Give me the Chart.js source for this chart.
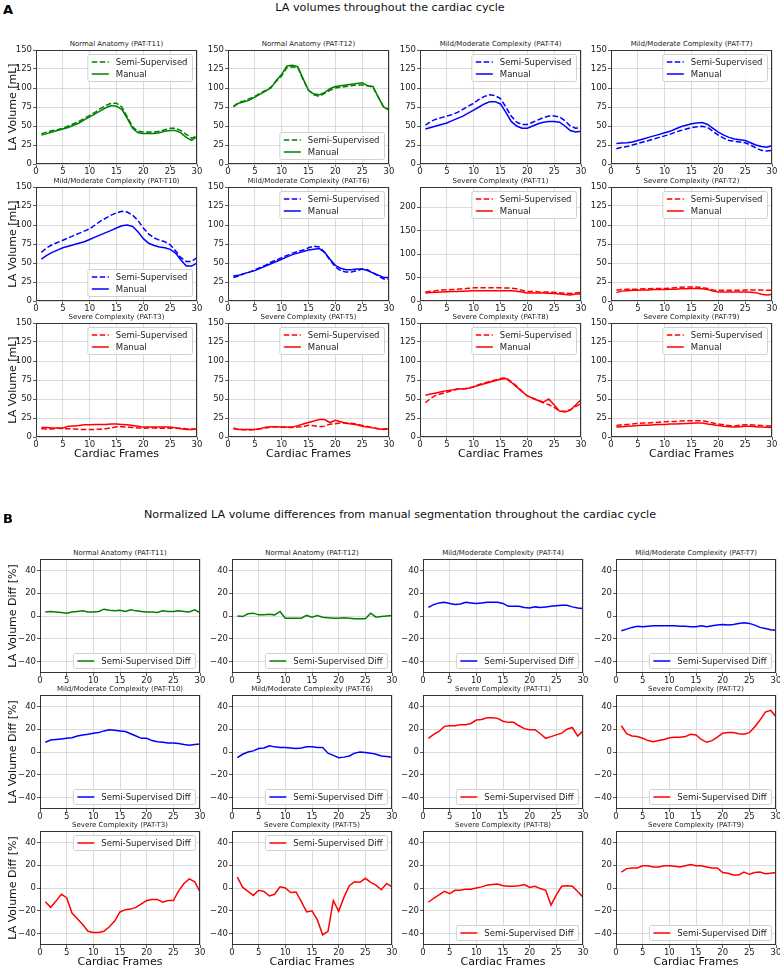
<!DOCTYPE html>
<html><head><meta charset="utf-8">
<script src="https://cdn.jsdelivr.net/npm/chart.js@4.4.0/dist/chart.umd.min.js"></script>
<style>
body{margin:0;background:#fff;width:780px;height:969px;position:relative;overflow:hidden;font-family:"DejaVu Sans",sans-serif;color:#000}
.t{position:absolute;white-space:nowrap;transform:translate(-50%,-50%);line-height:1}
.v{position:absolute;white-space:nowrap;transform:translate(-50%,-50%) rotate(-90deg);line-height:1}
canvas{position:absolute}
</style></head><body>
<script>
// ---------------- data ----------------
const frames = [1,2,3,4,5,6,7,8,9,10,11,12,13,14,15,16,17,18,19,20,21,22,23,24,25,26,27,28,29,30];
const xTicks = [0,5,10,15,20,25,30];
const volTicks = [0,25,50,75,100,125,150];
const volTicksT1 = [0,50,100,150,200];
const diffTicks = [-40,-20,0,20,40];

const t11Manual = [38,40,42,44,46,48,51,54,58,62,66,70,74,77,76,72,60,47,41,40,40,40,41,43,44,44,41,35,31,36];
const t11Semi   = [40,42,44,45,47,50,53,56,60,64,68,73,77,80,80,75,62,49,43,42,42,42,43,45,47,47,44,39,34,37];
const t12Manual = [75,80,82,84,88,92,96,100,110,118,129,130,128,112,97,92,91,94,99,102,103,104,105,106,107,103,102,88,75,71];
const t12Semi   = [76,81,83,86,89,93,97,101,109,116,127,128,127,111,97,91,89,93,97,100,101,102,103,104,104,103,101,88,75,72];
const t4Manual  = [46,48,50,52,54,57,60,63,67,71,75,79,82,82,79,68,56,50,47,47,50,53,55,56,56,55,50,44,42,43];
const t4Semi    = [51,56,59,61,63,65,68,72,76,80,85,89,91,90,86,75,63,55,52,52,55,58,61,63,63,62,57,50,47,48];
const t7Manual  = [27,27.5,28,29,31,33,35,37,39,41,43,46,49,51,53,54,54.5,52,47,42,38,35,33,32,31,28,25,23,22,24];
const t7Semi    = [20,22,23,25,27,29,31,33,35,37,39,42,44,46,48,49,49.5,48,43,38,34,31,30,29,28,25,21,18,17,18];
const t10Manual = [55,60,64,67,70,72,74,76,78,81,84,87,90,93,96,99,100,98,91,82,76,73,71,70,68,63,54,46,46,50];
const t10Semi   = [64,70,74,77,80,83,86,89,92,95,100,105,109,113,116,118,117,113,106,96,88,83,80,78,74,66,57,52,52,57];
const t6Manual  = [33,34,36,38,40,43,46,49,52,55,58,61,63,65,67,68,69,64,55,47,43,41,41,42,42,40,37,34,31,31];
const t6Semi    = [31,33,36,38,41,44,47,51,54,57,60,63,65,67,70,72,71,64,54,45,40,38,38,40,42,41,37,33,29,29];
const t1Manual  = [17,18,18.5,19,19.5,20,20.5,21,21.5,22,22,22,22,22,22,22,22,21,19,17,17,17,17,16.5,16,15,14,13,15,15];
const t1Semi    = [19,21,22,23.5,24,24.5,25,26,27,28,28.5,28.5,28.5,28.5,28,27.5,27.5,26,23,20.5,20.5,19.5,19,19,18.5,17.5,16.5,16,17,18];
const t2Manual  = [11,13,13.5,14,14,14.5,14.5,15,15,15,15.5,15.5,16,16,16.5,16.5,16,15,13,12,12,12,12,12,12,11.5,11,9,8,8.5];
const t2Semi    = [14,15,15.5,15.5,15.5,16,16,16.5,16.5,16.5,17,17.5,18,18.5,18.5,18.5,17.5,16.5,14.5,14,14,14,14,14,14.5,14.5,14.5,14.5,14,14];
const t3Manual  = [12.5,12.5,12,12,12,14,14.5,15,16,16,16.5,16.5,16.5,17,17,16.5,16,15,14,13,13,13,13,13,13,12,11,10,10,10.5];
const t3Semi    = [11,10.5,10.5,11.5,11,11,10.5,10,10,9.8,10,10.3,11,12,13.5,13.5,13,12.5,12,11.5,11.7,11.7,11.4,11.6,11.6,11.8,11.4,10.8,10.5,10];
const t5Manual  = [11,10,10,10,10,11,13,13.5,13.5,13,13,13,15,17,19,21,23,23,19,22,20,18,17,16,14,13,12,11,10,11];
const t5Semi    = [12,10,9.7,9.3,9.8,10.7,12,12.8,13.6,13,12.5,12.5,13.2,13.4,15.4,14.7,13.6,14.3,16.9,17.4,18.4,18.4,18,16.8,15.3,13.7,12.2,10.8,10.4,11.1];
const t8Manual  = [55,56.5,58,59.5,61,62,63,63.5,64,66,68,70,72,74,76,77,72,66,60,54,51,48,46,50,42,34,33,35,42,49];
const t8Semi    = [45,51,55,57,59,61,63,63,64,66,69,71,73,75,77,78,73,67,60,54,51,48,45,42.5,39,34,34,36,40,44];
const t9Manual  = [13,13.5,14,14.5,15,15.3,15.6,16,16.3,16.6,17,17.2,17.5,17.8,18,18.3,18.5,17,16,15,14,13.5,13,13.5,14,14,13.5,13,12.8,12.5];
const t9Semi    = [15,16,16.5,17,18,18.3,18.5,19,19.5,20,20.3,20.5,21,21.5,21.5,21.5,21.5,20,18.5,17,16,15,14.5,15.5,16,16,15.5,15,14.5,14.5];

const t11Diff = [3.5,4,3.5,3,2.5,3.5,4,4.5,3.5,3.5,4,6,5,4.5,5,4,5.5,4.5,4,3.5,3.5,3,4.5,4,4,4.5,4,3.5,5.5,3];
const t12Diff = [0,-0.5,2,2.5,1,1,1.5,1,4,-2,-2,-2,-2,0.5,-1,0.5,-1,-1.5,-2,-2,-1.5,-2,-2.5,-2.5,-2.5,2.5,-1,-0.5,0,0.5];
const t4Diff  = [7.5,10,11.5,12,11,10,10.5,12,11.5,11,11.5,12,12,12,11,8.5,8.5,8.5,7.5,7,8,7.5,8,8.5,9,9.5,9.5,8,7,6.5];
const t7Diff  = [-13,-11.5,-10,-9,-9.5,-9,-8.5,-8.5,-8.5,-8.5,-8.5,-9,-9,-9.5,-9.5,-8.5,-9.5,-8.5,-8,-7.5,-8,-7.5,-6.5,-6,-6.5,-8,-10,-11,-12,-12.5];
const t10Diff = [8.5,10.5,11,11.5,12,12.5,14,15,15.5,16.5,17,18.5,19.5,19,18.5,18,16,14,12,12,10,9,8.5,8,8,7.5,6.5,6,6.5,7];
const t6Diff  = [-5,-2,0,1,3,3.5,5.5,4.5,4,4,3.5,3,3.5,4.5,4.5,4,4,-1,-3,-5,-4.5,-3.5,-1,0,-0.5,-1,-2,-3.5,-4,-4.5];
const t1Diff  = [12,15.5,18,22.5,23,23,24,24,25,28,28.5,30,30,29.5,27,26,26,23,20.5,19.5,19.5,16,12,13.5,15,16.5,20,21.5,14,18.5];
const t2Diff  = [23,16,14,13.5,12,10,9,10,11,12.5,13,13,13.5,15.5,15,11,8.5,10,13,16.5,17,17,16,15.5,17,22,28,35,36.5,31];
const t3Diff  = [-12,-17,-11.5,-5.5,-8.5,-22,-27,-32,-38,-39,-39,-38,-34,-29,-21,-19,-18.5,-17,-14,-11,-10,-10,-12.5,-11,-11,-2.5,4,8,5.5,-3.5];
const t5Diff  = [9.5,0.5,-3,-6.5,-2,-3,-7,-5.5,1,0,-4,-3.5,-12,-21,-20,-28,-41,-38,-11,-20.5,-8,2,5.5,5,8.5,5,2.5,-1.5,4,1];
const t8Diff  = [-12.5,-9,-6,-3,-5,-2,-2,-1,-1,0,1,2.5,3,3.5,2,1.5,1.5,2,3,0.5,1.5,-0.5,-2,-15,-6,1.5,2,1.5,-3,-8];
const t9Diff  = [14,17,17.5,17.5,19.5,19.5,18.5,18.5,19.5,19.5,19,18.5,19.5,20.5,19.5,19.5,18.5,17.5,17.5,13.5,13,11.5,11.5,14,12,13.5,14,12.5,13,13.5];

// ---------------- style / layout ----------------
const GREEN = '#008000', BLUE = '#0000ff', RED = '#ff0000';
const FONT = '"DejaVu Sans"';
Chart.defaults.font.family = FONT;
Chart.defaults.font.size = 8.5;
Chart.defaults.color = '#222';

const panelsA = [
  {title:'Normal Anatomy (PAT-T11)', color:GREEN, manual:t11Manual, semi:t11Semi, leg:'ur'},
  {title:'Normal Anatomy (PAT-T12)', color:GREEN, manual:t12Manual, semi:t12Semi, leg:'lr'},
  {title:'Mild/Moderate Complexity (PAT-T4)', color:BLUE, manual:t4Manual, semi:t4Semi, leg:'ur'},
  {title:'Mild/Moderate Complexity (PAT-T7)', color:BLUE, manual:t7Manual, semi:t7Semi, leg:'ur'},
  {title:'Mild/Moderate Complexity (PAT-T10)', color:BLUE, manual:t10Manual, semi:t10Semi, leg:'lr'},
  {title:'Mild/Moderate Complexity (PAT-T6)', color:BLUE, manual:t6Manual, semi:t6Semi, leg:'ur'},
  {title:'Severe Complexity (PAT-T1)', color:RED, manual:t1Manual, semi:t1Semi, leg:'ur', ticks:volTicksT1, ymax:243},
  {title:'Severe Complexity (PAT-T2)', color:RED, manual:t2Manual, semi:t2Semi, leg:'ur'},
  {title:'Severe Complexity (PAT-T3)', color:RED, manual:t3Manual, semi:t3Semi, leg:'ur'},
  {title:'Severe Complexity (PAT-T5)', color:RED, manual:t5Manual, semi:t5Semi, leg:'ur'},
  {title:'Severe Complexity (PAT-T8)', color:RED, manual:t8Manual, semi:t8Semi, leg:'ur'},
  {title:'Severe Complexity (PAT-T9)', color:RED, manual:t9Manual, semi:t9Semi, leg:'ur'}
];
const panelsB = [
  {title:'Normal Anatomy (PAT-T11)', color:GREEN, diff:t11Diff, leg:'lr'},
  {title:'Normal Anatomy (PAT-T12)', color:GREEN, diff:t12Diff, leg:'lr'},
  {title:'Mild/Moderate Complexity (PAT-T4)', color:BLUE, diff:t4Diff, leg:'lr'},
  {title:'Mild/Moderate Complexity (PAT-T7)', color:BLUE, diff:t7Diff, leg:'lr'},
  {title:'Mild/Moderate Complexity (PAT-T10)', color:BLUE, diff:t10Diff, leg:'lr'},
  {title:'Mild/Moderate Complexity (PAT-T6)', color:BLUE, diff:t6Diff, leg:'lr'},
  {title:'Severe Complexity (PAT-T1)', color:RED, diff:t1Diff, leg:'lr'},
  {title:'Severe Complexity (PAT-T2)', color:RED, diff:t2Diff, leg:'lr'},
  {title:'Severe Complexity (PAT-T3)', color:RED, diff:t3Diff, leg:'ur'},
  {title:'Severe Complexity (PAT-T5)', color:RED, diff:t5Diff, leg:'ur'},
  {title:'Severe Complexity (PAT-T8)', color:RED, diff:t8Diff, leg:'lr'},
  {title:'Severe Complexity (PAT-T9)', color:RED, diff:t9Diff, leg:'lr'}
];

const gridA = {lefts:[36,228,420,611], tops:[50,187,323], w:161, h:114};
const gridB = {lefts:[40,232,423,616], tops:[559,695,831], w:160, h:114};
const YW = 30, PT = 8, PR = 12, XH = 20;

function addText(txt, x, y, css, cls){
  const d = document.createElement('div');
  d.className = cls || 't';
  d.textContent = txt;
  d.style.left = x + 'px'; d.style.top = y + 'px';
  d.style.cssText += css || '';
  document.body.appendChild(d);
}

const frameLegend = {
  id: 'frameLegend',
  afterDatasetsDraw(chart, args, opts) {
    const ctx = chart.ctx, a = chart.chartArea;
    ctx.save();
    ctx.setLineDash([]);
    ctx.strokeStyle = '#333'; ctx.lineWidth = 1;
    ctx.strokeRect(a.left + 0.5, a.top + 0.5, a.right - a.left - 1, a.bottom - a.top - 1);
    const items = opts.items || [];
    if (items.length) {
      ctx.font = '8.5px ' + FONT;
      const tw = Math.max(...items.map(it => ctx.measureText(it.text).width));
      const w = 4 + 17 + 7 + tw + 5, h = 12 * items.length + 3;
      const x = a.right - 4.5 - w;
      const y = opts.pos === 'ur' ? a.top + 4.5 : a.bottom - 4.5 - h;
      ctx.beginPath();
      ctx.roundRect(x, y, w, h, 2);
      ctx.fillStyle = 'rgba(255,255,255,0.85)';
      ctx.fill();
      ctx.strokeStyle = '#d0d0d0'; ctx.lineWidth = 1;
      ctx.stroke();
      items.forEach((it, i) => {
        const cy = y + 7.5 + 12 * i;
        ctx.beginPath();
        ctx.setLineDash(it.dash);
        ctx.strokeStyle = it.color; ctx.lineWidth = 1.5;
        ctx.moveTo(x + 4, cy); ctx.lineTo(x + 21, cy);
        ctx.stroke();
        ctx.setLineDash([]);
        ctx.fillStyle = '#222';
        ctx.textBaseline = 'middle'; ctx.textAlign = 'left';
        ctx.fillText(it.text, x + 28, cy + 0.5);
      });
    }
    ctx.restore();
  }
};

const fmt = v => String(v).replace('-', '\u2212');

function makeChart(left, top, w, h, datasets, yTickVals, ymin, ymax, legItems, legPos){
  const c = document.createElement('canvas');
  const cw = w + YW + PR, ch = h + PT + XH;
  c.width = cw; c.height = ch;
  c.style.left = (left - YW) + 'px'; c.style.top = (top - PT) + 'px';
  c.style.width = cw + 'px'; c.style.height = ch + 'px';
  document.body.appendChild(c);
  new Chart(c.getContext('2d'), {
    type: 'line',
    data: { datasets },
    options: {
      responsive: false, animation: false, devicePixelRatio: 1,
      layout: { padding: { top: PT, right: PR, left: 0, bottom: 0 } },
      plugins: { legend: { display: false }, tooltip: { enabled: false },
                 frameLegend: { items: legItems, pos: legPos } },
      elements: { point: { radius: 0 }, line: { tension: 0 } },
      scales: {
        x: {
          type: 'linear', min: 0, max: 30,
          afterBuildTicks: s => { s.ticks = xTicks.map(v => ({ value: v })); },
          afterFit: s => { s.height = XH; },
          ticks: { autoSkip: false, maxRotation: 0, padding: 0, color: '#222', font: { size: 8.5 }, callback: fmt },
          grid: { color: '#d3d3d3', lineWidth: 0.8, tickColor: '#333', tickLength: 3 },
          border: { display: false }
        },
        y: {
          type: 'linear', min: ymin, max: ymax,
          afterBuildTicks: s => { s.ticks = yTickVals.map(v => ({ value: v })); },
          afterFit: s => { s.width = YW; },
          ticks: { autoSkip: false, padding: 1, color: '#222', font: { size: 8.5 }, callback: fmt },
          grid: { color: '#d3d3d3', lineWidth: 0.8, tickColor: '#333', tickLength: 3 },
          border: { display: false }
        }
      }
    },
    plugins: [frameLegend]
  });
}

const pts = arr => frames.map((f, i) => ({ x: f, y: arr[i] }));

// ---------------- panel A ----------------
addText('A', 8, 9, 'font-size:13px;font-weight:bold;');
addText('LA volumes throughout the cardiac cycle', 390, 8, 'font-size:11.2px;color:#111;');
panelsA.forEach((p, i) => {
  const r = Math.floor(i / 4), col = i % 4;
  const L = gridA.lefts[col], T = gridA.tops[r];
  addText(p.title, L + gridA.w / 2, T - 6, 'font-size:7px;color:#222;');
  makeChart(L, T, gridA.w, gridA.h, [
    { label: 'Semi-Supervised', data: pts(p.semi), borderColor: p.color, borderWidth: 1.5, borderDash: [5.5, 2.4], fill: false },
    { label: 'Manual', data: pts(p.manual), borderColor: p.color, borderWidth: 1.5, fill: false }
  ], p.ticks || volTicks, 0, p.ymax || 150,
  [{ text: 'Semi-Supervised', color: p.color, dash: [5.5, 2.4] }, { text: 'Manual', color: p.color, dash: [] }], p.leg);
});
gridA.tops.forEach(T => addText('LA Volume [mL]', 12, T + gridA.h / 2, 'font-size:11px;color:#111;', 'v'));
gridA.lefts.forEach(L => addText('Cardiac Frames', L + gridA.w / 2, gridA.tops[2] + gridA.h + 16, 'font-size:11px;color:#111;'));

// ---------------- panel B ----------------
addText('B', 8, 518, 'font-size:13px;font-weight:bold;');
addText('Normalized LA volume differences from manual segmentation throughout the cardiac cycle', 400, 515, 'font-size:11.2px;color:#111;');
panelsB.forEach((p, i) => {
  const r = Math.floor(i / 4), col = i % 4;
  const L = gridB.lefts[col], T = gridB.tops[r];
  addText(p.title, L + gridB.w / 2, T - 6.5, 'font-size:7px;color:#222;');
  makeChart(L, T, gridB.w, gridB.h, [
    { label: 'Semi-Supervised Diff', data: pts(p.diff), borderColor: p.color, borderWidth: 1.5, fill: false }
  ], diffTicks, -50, 50,
  [{ text: 'Semi-Supervised Diff', color: p.color, dash: [] }], p.leg);
});
gridB.tops.forEach(T => addText('LA Volume Diff [%]', 12, T + gridB.h / 2, 'font-size:11px;color:#111;', 'v'));
gridB.lefts.forEach(L => addText('Cardiac Frames', L + gridB.w / 2, gridB.tops[2] + gridB.h + 16, 'font-size:11px;color:#111;'));
</script>
</body></html>
